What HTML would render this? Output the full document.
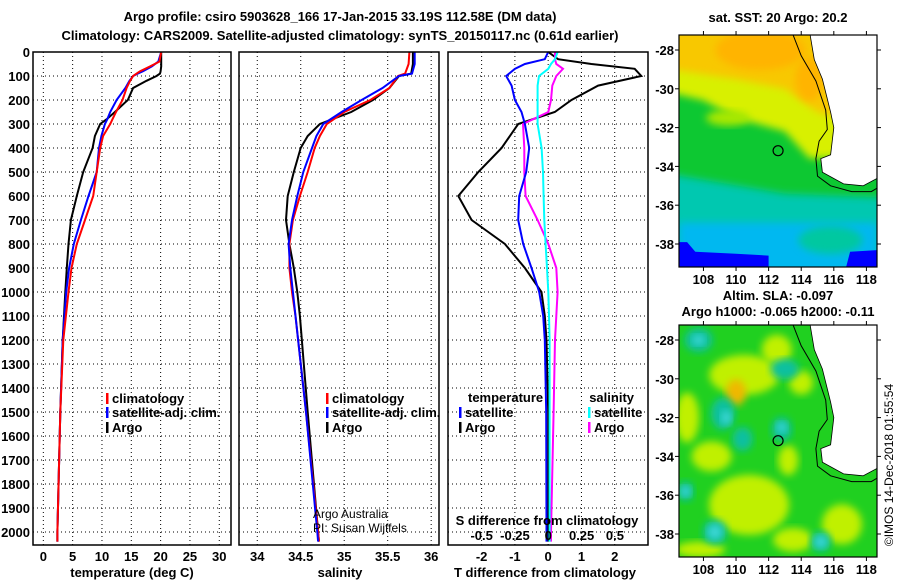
<!DOCTYPE html>
<html><head><meta charset="utf-8">
<style>
html,body{margin:0;padding:0;background:#fff;}
svg{display:block;font-family:"Liberation Sans",sans-serif;}
.b{font-weight:bold;font-size:13px;}
</style></head>
<body>
<svg id="chart" width="900" height="580" viewBox="0 0 900 580" xmlns="http://www.w3.org/2000/svg">
<defs>
<filter id="blur4" x="-20%" y="-20%" width="140%" height="140%"><feGaussianBlur stdDeviation="4"/></filter>
<filter id="blur6" x="-30%" y="-30%" width="160%" height="160%"><feGaussianBlur stdDeviation="6"/></filter>
<clipPath id="clipTop"><rect x="679" y="35" width="198" height="232"/></clipPath>
<clipPath id="clipBot"><rect x="679" y="325" width="198" height="232"/></clipPath>
</defs>
<text class="b" x="340" y="21" text-anchor="middle" font-size="14">Argo profile: csiro 5903628_166 17-Jan-2015 33.19S 112.58E (DM data)</text>
<text class="b" x="340" y="40" text-anchor="middle" font-size="14">Climatology: CARS2009. Satellite-adjusted climatology: synTS_20150117.nc (0.61d earlier)</text>
<g id="panels"></g>
<g id="maps"></g>
</svg>
<script>
// ---------- data ----------
const depthTicks=[0,100,200,300,400,500,600,700,800,900,1000,1100,1200,1300,1400,1500,1600,1700,1800,1900,2000];
const tempTicks=[0,5,10,15,20,25,30];
const salTicks=[34,34.5,35,35.5,36];
const salTickLabels=["34","34.5","35","35.5","36"];
const tdiffTicks=[-2,-1,0,1,2];
const sdiffTicks=[-0.5,-0.25,0,0.25,0.5];
const sdiffTickLabels=["-0.5","-0.25","0","0.25","0.5"];

const tDepth=[0,40,60,80,90,100,120,150,200,250,280,300,350,400,500,600,700,800,900,1000,1200,1500,2000,2040];
const tArgo=[20.1,20.1,20.1,20.0,19.9,19.3,17.6,15.3,14.4,12.2,10.8,9.7,8.8,8.4,6.8,5.7,4.7,4.3,4.0,3.75,3.3,2.9,2.4,2.4];
const tClim=[20.1,19.8,18.2,16.5,15.9,15.3,14.8,14.2,13.5,12.4,11.8,11.4,10.2,9.7,9.1,8.5,7.1,5.7,4.8,4.3,3.4,2.9,2.4,2.4];
const tSat=[20.1,19.6,18.5,17.0,16.1,15.3,14.7,14.0,12.5,11.4,10.9,10.5,9.9,9.5,9.1,7.7,6.4,5.2,4.4,3.9,3.3,2.9,2.4,2.4];

const sDepth=[0,50,90,100,150,200,250,300,350,400,500,600,700,800,900,1000,1100,1500,2000,2040];
const sArgo=[35.79,35.79,35.77,35.63,35.52,35.33,35.08,34.72,34.58,34.50,34.42,34.35,34.33,34.37,34.42,34.46,34.49,34.58,34.70,34.71];
const sClim=[35.75,35.74,35.70,35.62,35.52,35.30,35.00,34.80,34.72,34.66,34.58,34.49,34.41,34.37,34.37,34.40,34.44,34.56,34.70,34.71];
const sSat=[35.81,35.81,35.78,35.63,35.44,35.20,34.97,34.76,34.68,34.63,34.53,34.46,34.40,34.36,34.38,34.41,34.44,34.56,34.69,34.70];

const dDepth=[0,30,50,70,100,140,200,250,300,400,500,600,700,800,900,1000,1100,1200,1500,2000,2040];
const dTArgo=[0,0.3,1.3,2.6,2.8,1.5,0.7,0.2,-0.9,-1.4,-2.1,-2.7,-2.3,-1.3,-0.7,-0.2,-0.1,-0.05,0,0,0];
const dTSat=[0,-0.1,-0.7,-1.0,-1.26,-1.1,-1.0,-0.8,-0.7,-0.57,-0.66,-0.87,-0.9,-0.75,-0.5,-0.27,-0.15,-0.1,-0.06,-0.05,-0.05];
const dSSat=[0.07,0.05,0.02,0.0,-0.07,-0.08,-0.08,-0.08,-0.08,-0.05,-0.04,-0.035,-0.03,-0.02,-0.01,0,0.005,0.01,0.01,0.01,0.01];
const dSArgo=[0.05,0.05,0.06,0.11,0.06,0.03,0.02,0.0,-0.19,-0.18,-0.18,-0.17,-0.08,0.0,0.06,0.07,0.06,0.05,0.04,0.02,0.02];

// ---------- helpers ----------
const NS="http://www.w3.org/2000/svg";
function mk(tag,attrs,parent){const e=document.createElementNS(NS,tag);for(const k in attrs)e.setAttribute(k,attrs[k]);parent.appendChild(e);return e;}
const Y0=52, PXD=0.24, YB=545;
function yD(d){return Y0+d*PXD;}
const panelsG=document.getElementById('panels');

function panel(name,x0,x1,vmin,vmax){
  const g=mk('g',{},panelsG);
  
  
  const sx=v=>x0+(v-vmin)/(vmax-vmin)*(x1-x0);
  return {g,sx,x0,x1};
}
function frame(p){
  const r=mk('rect',{x:p.x0,y:Y0,width:p.x1-p.x0,height:YB-Y0,fill:'none',stroke:'#000','stroke-width':1.5},p.g);
  
  
}
function hgrid(p){
  depthTicks.forEach(d=>{
    const l=mk('line',{x1:p.x0,x2:p.x1,y1:yD(d),y2:yD(d),stroke:'#000','stroke-dasharray':'1,3','stroke-width':1},p.g);
    
    
  });
}
function vgrid(p,ticks,sx){
  ticks.forEach(v=>{
    const l=mk('line',{x1:sx(v),x2:sx(v),y1:Y0,y2:YB,stroke:'#000','stroke-dasharray':'1,3','stroke-width':1},p.g);
    
    
  });
}
function xlabels(p,ticks,labels,sx,y,name){
  ticks.forEach((v,i)=>{
    const t=mk('text',{x:sx(v),y:y,'text-anchor':'middle',class:'b'},p.g);
    t.textContent=labels[i];
    
    
  });
}
function line(p,vals,depths,sx,color,name){
  const pts=vals.map((v,i)=>sx(v).toFixed(1)+','+yD(depths[i]).toFixed(1)).join(' ');
  const l=mk('polyline',{points:pts,fill:'none',stroke:color,'stroke-width':2},p.g);
  
  
}
function txt(parent,x,y,s,name,attrs){
  const t=mk('text',Object.assign({x:x,y:y,class:'b'},attrs||{}),parent);
  t.textContent=s;
  
  
  return t;
}
function legendItem(parent,x,y,color,label,name){
  const r=mk('rect',{x:x,y:y-10,width:2.5,height:11,fill:color},parent);
  
  
  txt(parent,x+6,y,label,name+'-label');
}

// ---------- panel 1: temperature ----------
const p1=panel('temperature-panel',33,231,-1.76,32.0);
hgrid(p1);vgrid(p1,tempTicks,p1.sx);
line(p1,tArgo,tDepth,p1.sx,'#000','argo-temperature-line');
line(p1,tSat,tDepth,p1.sx,'#0000ff','satellite-temperature-line');
line(p1,tClim,tDepth,p1.sx,'#ff0000','climatology-temperature-line');
frame(p1);
depthTicks.forEach(d=>{txt(p1.g,30,yD(d)+5,String(d),'depth-tick-label',{'text-anchor':'end'});});
xlabels(p1,tempTicks,tempTicks.map(String),p1.sx,561,'temperature-tick-label');
txt(p1.g,132,577,'temperature (deg C)','temperature-axis-title',{'text-anchor':'middle'});
legendItem(p1.g,106,403,'#ff0000','climatology','legend-climatology');
legendItem(p1.g,106,417,'#0000ff','satellite-adj. clim.','legend-satellite');
legendItem(p1.g,106,432,'#000','Argo','legend-argo');

// ---------- panel 2: salinity ----------
const p2=panel('salinity-panel',239,439,33.79,36.09);
hgrid(p2);vgrid(p2,salTicks,p2.sx);
line(p2,sArgo,sDepth,p2.sx,'#000','argo-salinity-line');
line(p2,sClim,sDepth,p2.sx,'#ff0000','climatology-salinity-line');
line(p2,sSat,sDepth,p2.sx,'#0000ff','satellite-salinity-line');
frame(p2);
xlabels(p2,salTicks,salTickLabels,p2.sx,561,'salinity-tick-label');
txt(p2.g,340,577,'salinity','salinity-axis-title',{'text-anchor':'middle'});
legendItem(p2.g,326,403,'#ff0000','climatology','legend-climatology');
legendItem(p2.g,326,417,'#0000ff','satellite-adj. clim.','legend-satellite');
legendItem(p2.g,326,432,'#000','Argo','legend-argo');
txt(p2.g,313,518,'Argo Australia','credit-argo-australia',{style:'font-weight:normal;font-size:12px'});
txt(p2.g,313,532,'PI: Susan Wijffels','credit-pi',{style:'font-weight:normal;font-size:12px'});

// ---------- panel 3: differences ----------
const p3=panel('difference-panel',448,648,-3.01,3.0);
const sxS=v=>548.3+v*133.3;
hgrid(p3);vgrid(p3,tdiffTicks,p3.sx);
line(p3,dTArgo,dDepth,p3.sx,'#000','argo-temperature-difference-line');
line(p3,dSArgo,dDepth,sxS,'#ff00ff','argo-salinity-difference-line');
line(p3,dTSat,dDepth,p3.sx,'#0000ff','satellite-temperature-difference-line');
line(p3,dSSat,dDepth,sxS,'#00ffff','satellite-salinity-difference-line');
frame(p3);
xlabels(p3,tdiffTicks,tdiffTicks.map(String),p3.sx,561,'t-difference-tick-label');
txt(p3.g,545,577,'T difference from climatology','t-difference-axis-title',{'text-anchor':'middle'});
xlabels(p3,sdiffTicks,sdiffTickLabels,sxS,540,'s-difference-tick-label');
txt(p3.g,547,525,'S difference from climatology','s-difference-axis-title',{'text-anchor':'middle'});
txt(p3.g,468,402,'temperature','legend-temperature-heading');
legendItem(p3.g,459,417,'#0000ff','satellite','legend-t-satellite');
legendItem(p3.g,459,432,'#000','Argo','legend-t-argo');
txt(p3.g,634,402,'salinity','legend-salinity-heading',{'text-anchor':'end'});
legendItem(p3.g,588,417,'#00ffff','satellite','legend-s-satellite');
legendItem(p3.g,588,432,'#ff00ff','Argo','legend-s-argo');

// ---------- maps ----------
const mapsG=document.getElementById('maps');
const lonTicks=[108,110,112,114,116,118];
const latTicks=[-28,-30,-32,-34,-36,-38];
const MX0=679,MX1=877,LON0=106.5,LON1=118.65;
function mx(lon){return MX0+(lon-LON0)/(LON1-LON0)*(MX1-MX0);}
function my(lat,top){return top+15+(-28-lat)*19.4;}
const land=[[114.5,-27.0],[114.8,-28.5],[115.3,-29.5],[115.8,-31.2],[116.0,-32.0],[115.8,-33.4],[115.2,-33.6],[115.3,-34.3],[116.6,-34.9],[117.8,-35.0],[118.7,-34.6],[118.7,-27.0]];
const shelf=[[113.4,-27.0],[114.0,-28.3],[114.9,-29.6],[115.5,-31.1],[115.6,-32.1],[115.1,-32.7],[114.9,-33.6],[115.0,-34.5],[115.8,-35.0],[117.1,-35.3],[118.3,-35.3],[118.7,-35.1]];
function ptsOf(arr,top){return arr.map(p=>mx(p[0]).toFixed(1)+','+my(p[1],top).toFixed(1)).join(' ');}

function mapFrame(top,clipId,name,fills){
  const g=mk('g',{},mapsG);
  
  
  const c=mk('g',{'clip-path':'url(#'+clipId+')'},g);
  fills(c);
  const lp=mk('polygon',{points:ptsOf(land,top),fill:'#fff',stroke:'#000','stroke-width':0.8},c);
  
  
  const sp=mk('polyline',{points:ptsOf(shelf,top),fill:'none',stroke:'#000','stroke-width':1},c);
  
  
  const ci=mk('circle',{cx:mx(112.58),cy:my(-33.19,top),r:5,fill:'none',stroke:'#000','stroke-width':1.2},g);
  
  
  const fr=mk('rect',{x:MX0,y:top,width:MX1-MX0,height:232,fill:'none',stroke:'#000','stroke-width':1.2},g);
  
  
  lonTicks.forEach(l=>{
    mk('line',{x1:mx(l),x2:mx(l),y1:top-4,y2:top,stroke:'#000'},g);
    mk('line',{x1:mx(l),x2:mx(l),y1:top+232,y2:top+236,stroke:'#000'},g);
    txt(g,mx(l),top+249,String(l),'longitude-tick-label',{'text-anchor':'middle'});
  });
  latTicks.forEach(l=>{
    mk('line',{x1:MX1,x2:MX1+4,y1:my(l,top),y2:my(l,top),stroke:'#000'},g);
    mk('line',{x1:MX0-4,x2:MX0,y1:my(l,top),y2:my(l,top),stroke:'#000'},g);
    txt(g,674,my(l,top)+5,String(l),'latitude-tick-label',{'text-anchor':'end'});
  });
  return g;
}
function blob(c,lon,lat,rx,ry,col,top,f){
  mk('ellipse',{cx:mx(lon),cy:my(lat,top),rx:rx,ry:ry,fill:col,filter:'url(#'+(f||'blur4')+')'},c);
}
// SST map
mapFrame(35,'clipTop','sst-map',c=>{
  const T=35;
  mk('rect',{x:MX0,y:T,width:198,height:232,fill:'#00c8b0'},c);
  mk('polygon',{points:ptsOf([[106,-26],[119,-26],[119,-35.6],[113,-35.4],[106,-34.4]],T),fill:'#10c830',filter:'url(#blur4)'},c);
  mk('polygon',{points:ptsOf([[106,-26],[119,-26],[119,-33.5],[114.5,-33.6],[113,-32.2],[110,-31.5],[108,-30.6],[106,-30.2]],T),fill:'#d8f000',filter:'url(#blur4)'},c);
  blob(c,109.5,-31.5,22,8,'#a8e800',T);
  mk('polygon',{points:ptsOf([[106,-26],[119,-26],[119,-32],[115,-31.2],[113,-30],[110,-29.5],[106,-29]],T),fill:'#f8c800',filter:'url(#blur4)'},c);
  blob(c,111.5,-28,45,20,'#ffb400',T);
  blob(c,114.5,-29.5,14,22,'#ffb400',T);
  mk('rect',{x:MX0,y:my(-36.9,T),width:198,height:60,fill:'#00b8f0',filter:'url(#blur4)'},c);
  blob(c,115.8,-37.8,32,14,'#00c8a0',T);
  mk('polygon',{points:ptsOf([[106,-37.9],[107,-37.9],[107.5,-38.4],[110,-38.5],[112,-38.6],[112,-40],[106,-40]],T),fill:'#0000ff'},c);
  mk('polygon',{points:ptsOf([[117,-38.4],[119,-38.3],[119,-40],[116.5,-40]],T),fill:'#0000ff'},c);
});
txt(mapsG,778,22,'sat. SST: 20 Argo: 20.2','sst-map-title',{'text-anchor':'middle'});
// SLA map
mapFrame(325,'clipBot','sla-map',c=>{
  const T=325;
  mk('rect',{x:MX0,y:T,width:198,height:232,fill:'#20d020'},c);
  [[110.5,-29.8,35,20],[107,-32,12,25],[108.5,-34,20,15],[110.8,-36.5,40,30],[113.2,-34.2,10,15],[114,-30.2,12,12],[112.5,-28.5,15,15],[116.5,-37.5,20,20],[113.5,-38.3,20,12],[107.8,-38.8,25,8]].forEach(b=>blob(c,b[0],b[1],b[2],b[3],'#c0f000',T));
  blob(c,110,-30.7,10,13,'#f0b800',T);
  [[107.7,-28,14,12],[109.2,-31.8,12,16],[110.4,-33.1,10,12],[112.8,-32.6,10,12],[106.9,-35.8,8,10],[108.7,-37.9,12,12],[115.2,-38.4,10,10],[113,-29.5,14,10]].forEach(b=>blob(c,b[0],b[1],b[2],b[3],'#10c0a0',T));
  [[107.7,-28,6,5],[109.4,-32,5,7],[108.7,-37.9,7,7],[115.2,-38.4,6,6],[112.8,-32.5,5,5],[106.9,-35.8,5,5]].forEach(b=>blob(c,b[0],b[1],b[2],b[3],'#40d8d8',T,'blur4'));
});
txt(mapsG,778,300,'Altim. SLA: -0.097','sla-map-title',{'text-anchor':'middle'});
txt(mapsG,778,316,'Argo h1000: -0.065 h2000: -0.11','sla-map-subtitle',{'text-anchor':'middle'});
txt(mapsG,893,465,'©IMOS 14-Dec-2018 01:55:54','imos-timestamp',{'text-anchor':'middle',transform:'rotate(-90 893 465)',style:'font-weight:normal;font-size:12px'});
</script>
</body></html>
